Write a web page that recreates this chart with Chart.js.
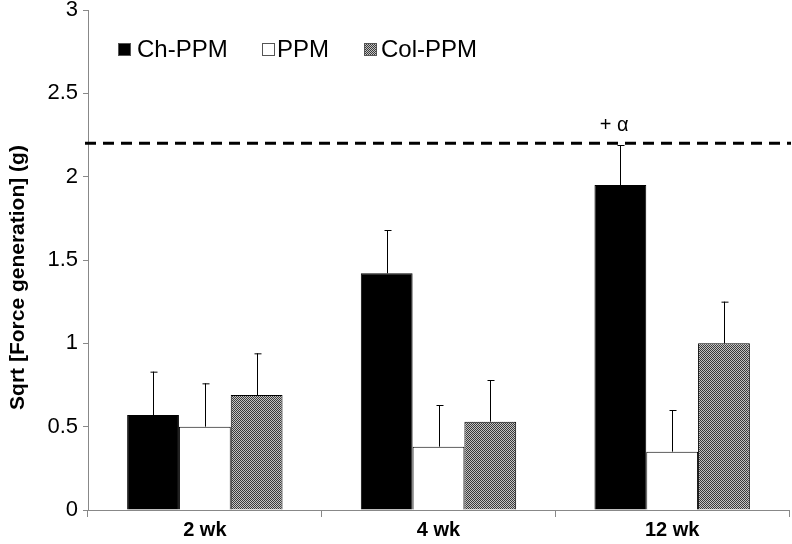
<!DOCTYPE html>
<html>
<head>
<meta charset="utf-8">
<script src="https://cdn.jsdelivr.net/npm/chart.js@4"></script>
<style>
  html, body { margin: 0; padding: 0; background: #fff; }
  #wrap { width: 792px; height: 544px; }
</style>
</head>
<body>
<div id="wrap"><canvas id="chart" width="792" height="544"></canvas></div>
<script>
const categories = ["2 wk", "4 wk", "12 wk"];
const seriesNames = ["Ch-PPM", "PPM", "Col-PPM"];
const chPpm = [0.57, 1.42, 1.95];
const ppm = [0.50, 0.38, 0.35];
const colPpm = [0.69, 0.53, 1.00];
const chPpmErr = [0.26, 0.26, 0.24];
const ppmErr = [0.26, 0.25, 0.25];
const colPpmErr = [0.25, 0.25, 0.25];
const yTicks = [0, 0.5, 1, 1.5, 2, 2.5, 3];
const threshold = 2.2;
const thresholdLabel = "+ α";

const FONT = "'Liberation Sans', Arial, sans-serif";

// checkered grey fill used by Col-PPM
function makePattern() {
  const c = document.createElement("canvas");
  c.width = 2; c.height = 2;
  const g = c.getContext("2d");
  g.fillStyle = "#c4c4c4"; g.fillRect(0, 0, 2, 2);
  g.fillStyle = "#3a3a3a"; g.fillRect(0, 0, 1, 1); g.fillRect(1, 1, 1, 1);
  return g.createPattern(c, "repeat");
}
const checker = makePattern();

const errorBars = {
  id: "errorBars",
  afterDatasetsDraw(chart) {
    const ctx = chart.ctx;
    const y = chart.scales.y;
    ctx.save();
    ctx.strokeStyle = "#000";
    ctx.lineWidth = 1;
    chart.data.datasets.forEach((ds, i) => {
      const meta = chart.getDatasetMeta(i);
      meta.data.forEach((bar, j) => {
        const top = y.getPixelForValue(ds.data[j] + ds.err[j]);
        const x = Math.round(bar.x) + 0.5;
        ctx.beginPath();
        ctx.moveTo(x, bar.y);
        ctx.lineTo(x, top);
        ctx.moveTo(x - 3, top + 0.5);
        ctx.lineTo(x + 4, top + 0.5);
        ctx.stroke();
      });
    });
    ctx.restore();
  }
};

const refLine = {
  id: "refLine",
  afterDatasetsDraw(chart) {
    const ctx = chart.ctx;
    const area = chart.chartArea;
    const py = chart.scales.y.getPixelForValue(threshold);
    ctx.save();
    ctx.strokeStyle = "#000";
    ctx.lineWidth = 3;
    ctx.setLineDash([11, 7]);
    ctx.beginPath();
    ctx.moveTo(area.left - 3, py);
    ctx.lineTo(area.right + 2, py);
    ctx.stroke();
    ctx.setLineDash([]);
    ctx.fillStyle = "#000";
    ctx.font = "20px " + FONT;
    ctx.textAlign = "center";
    ctx.textBaseline = "bottom";
    ctx.fillText(thresholdLabel, chart.scales.x.getPixelForValue(2) - 58, py - 8);
    ctx.restore();
  }
};

const innerLegend = {
  id: "innerLegend",
  afterDraw(chart) {
    const ctx = chart.ctx;
    const boxX = [118, 262, 364];
    const textX = [137, 277, 381];
    const yMid = 49;
    ctx.save();
    ctx.font = "24px " + FONT;
    ctx.textBaseline = "middle";
    ctx.textAlign = "left";
    chart.data.datasets.forEach((ds, i) => {
      ctx.fillStyle = ds.backgroundColor;
      ctx.fillRect(boxX[i], yMid - 6, 13, 13);
      ctx.strokeStyle = "#555";
      ctx.lineWidth = 1;
      ctx.strokeRect(boxX[i] + 0.5, yMid - 5.5, 12, 12);
      ctx.fillStyle = "#000";
      ctx.fillText(ds.label, textX[i], yMid + 1);
    });
    ctx.restore();
  }
};

new Chart(document.getElementById("chart").getContext("2d"), {
  type: "bar",
  data: {
    labels: categories,
    datasets: [
      { label: seriesNames[0], data: chPpm, err: chPpmErr, backgroundColor: "#000000", borderColor: "#000", borderWidth: 1 },
      { label: seriesNames[1], data: ppm, err: ppmErr, backgroundColor: "#ffffff", borderColor: "#000", borderWidth: 1 },
      { label: seriesNames[2], data: colPpm, err: colPpmErr, backgroundColor: checker, borderColor: "#000", borderWidth: 1 }
    ]
  },
  options: {
    responsive: false,
    animation: false,
    layout: { padding: { top: 10, right: 3, left: 0, bottom: 0 } },
    datasets: { bar: { barPercentage: 1, categoryPercentage: 0.665 } },
    plugins: { legend: { display: false }, tooltip: { enabled: false } },
    scales: {
      x: {
        grid: { offset: true, drawOnChartArea: false, color: "#888", tickLength: 7 },
        border: { color: "#888", width: 1 },
        ticks: { color: "#000", font: { family: FONT, size: 20, weight: "bold" }, padding: 1 },
        afterFit(scale) { scale.height = 34; }
      },
      y: {
        min: 0,
        max: 3,
        afterBuildTicks(scale) { scale.ticks = yTicks.map(v => ({ value: v })); },
        grid: { drawOnChartArea: false, color: "#888", tickLength: 5 },
        border: { color: "#888", width: 1 },
        ticks: { color: "#000", font: { family: FONT, size: 22 }, padding: 5, callback: v => String(v) },
        title: { display: true, text: "Sqrt [Force generation] (g)\u00a0\u00a0\u00a0\u00a0\u00a0\u00a0", color: "#000", font: { family: FONT, size: 21, weight: "bold" }, padding: { top: 6, bottom: 0 } },
        afterFit(scale) { scale.width = 88; scale.paddingTop = 0; scale.paddingBottom = 0; }
      }
    }
  },
  plugins: [errorBars, refLine, innerLegend]
});
</script>
</body>
</html>
